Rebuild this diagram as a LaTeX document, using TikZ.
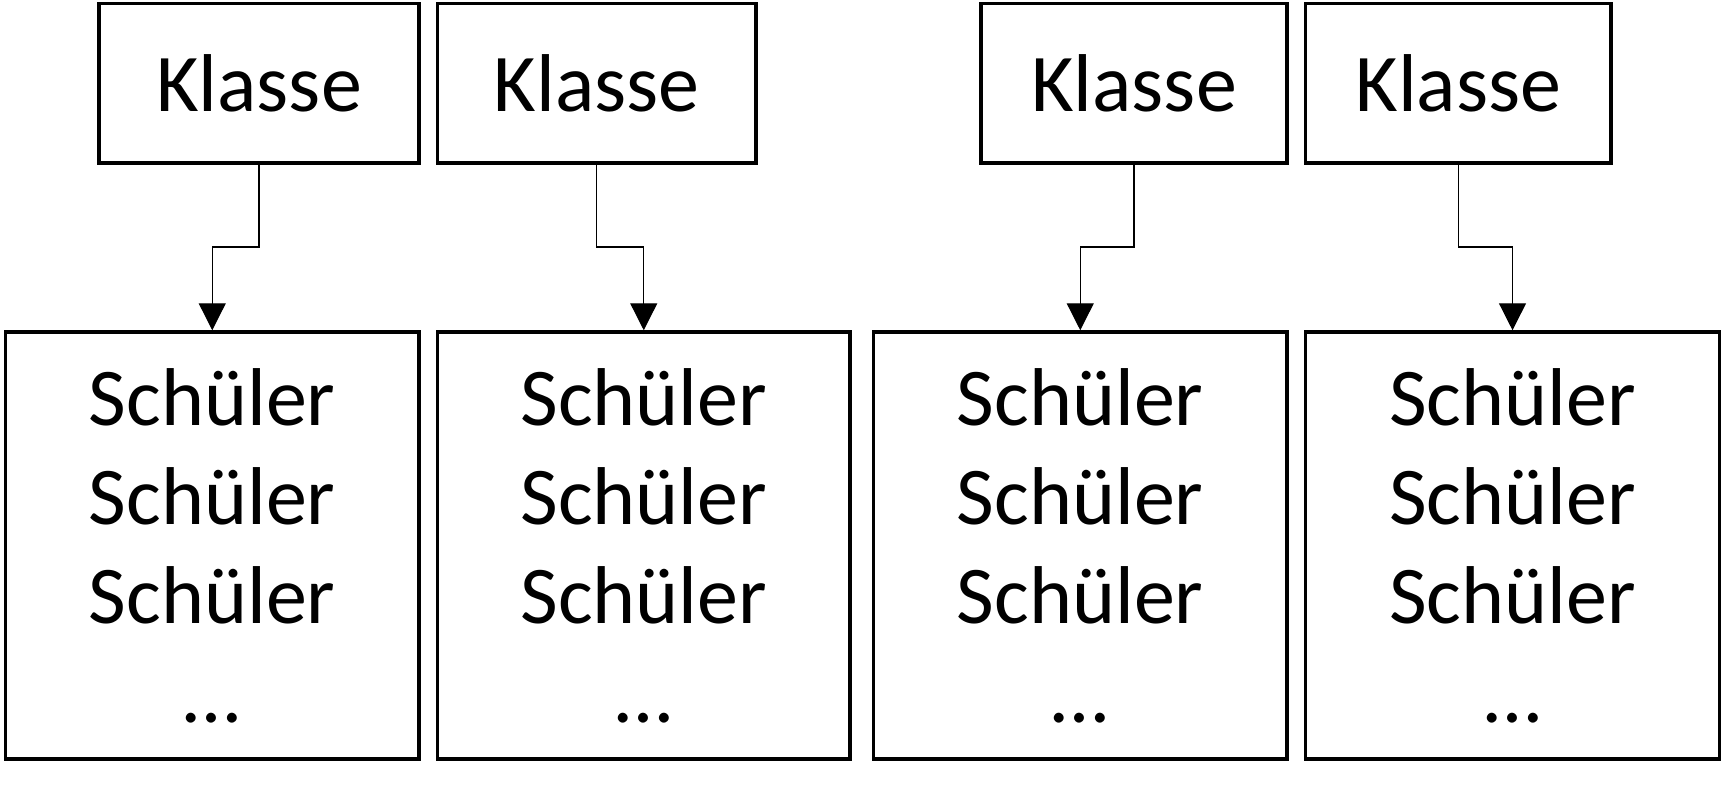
\documentclass[tikz,border=0pt]{standalone}
\usepackage{fontspec}
\setmainfont{Carlito}
\usetikzlibrary{arrows.meta}
\begin{document}
\begin{tikzpicture}[x=0.5pt,y=-0.5pt,
  topbox/.style={draw, line width=1.75pt, rectangle, inner sep=0pt, minimum height=79.85pt, font=\fontsize{41}{49.5}\selectfont},
  botbox/.style={draw, line width=1.75pt, rectangle, inner sep=0pt, minimum height=213.5pt, align=center, font=\fontsize{41}{49.5}\selectfont},
  conn/.style={line width=0.65pt, -{Triangle[width=13.5pt,length=13.5pt]}}]
\useasboundingbox (0,0) rectangle (1723,797);
\node[topbox, minimum width=160pt]    (t1) at (259,83.2)    {Klasse};
\node[topbox, minimum width=159.25pt] (t2) at (596.75,83.2) {Klasse};
\node[topbox, minimum width=153pt]    (t3) at (1134,83.2)   {Klasse};
\node[topbox, minimum width=152.75pt] (t4) at (1458.25,83.2) {Klasse};
\node[botbox, minimum width=206.75pt] (b1) at (212.25,545.5) {Schüler\\Schüler\\Schüler\\…};
\node[botbox, minimum width=206.25pt] (b2) at (643.75,545.5) {Schüler\\Schüler\\Schüler\\…};
\node[botbox, minimum width=206.75pt] (b3) at (1080.25,545.5) {Schüler\\Schüler\\Schüler\\…};
\node[botbox, minimum width=207pt]    (b4) at (1512.5,545.5) {Schüler\\Schüler\\Schüler\\…};
\coordinate (ymid) at (0,247);
\foreach \i in {1,2,3,4}{
  \draw[conn] (t\i.south) -- (t\i.south |- ymid) -| (b\i.north);
}
\end{tikzpicture}
\end{document}
